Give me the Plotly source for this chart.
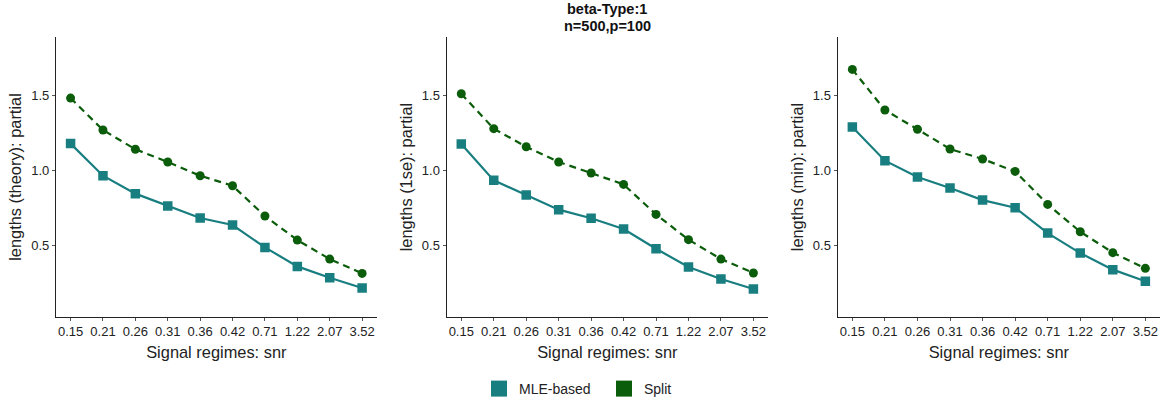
import plotly.graph_objects as go

# Signal-to-noise regimes (categorical x axis)
snr_labels = ["0.15", "0.21", "0.26", "0.31", "0.36", "0.42", "0.71", "1.22", "2.07", "3.52"]

# Interval lengths per tuning rule
mle_theory = [1.179, 0.964, 0.844, 0.761, 0.681, 0.634, 0.484, 0.357, 0.281, 0.212]
split_theory = [1.484, 1.270, 1.141, 1.056, 0.964, 0.897, 0.694, 0.533, 0.406, 0.310]

mle_1se = [1.176, 0.933, 0.835, 0.737, 0.679, 0.607, 0.475, 0.353, 0.272, 0.205]
split_1se = [1.513, 1.279, 1.158, 1.056, 0.982, 0.906, 0.705, 0.536, 0.406, 0.313]

mle_min = [1.290, 1.065, 0.955, 0.882, 0.801, 0.750, 0.580, 0.446, 0.335, 0.257]
split_min = [1.676, 1.404, 1.275, 1.143, 1.076, 0.993, 0.772, 0.589, 0.449, 0.344]

y_titles = ["lengths (theory): partial", "lengths (1se): partial", "lengths (min): partial"]
x_title = "Signal regimes: snr"
series_names = ["MLE-based", "Split"]
title_lines = ["beta-Type:1", "n=500,p=100"]

MLE_COLOR = "#187E80"
SPLIT_COLOR = "#0B5D0B"
FONT = "Liberation Sans, Arial, sans-serif"

W, H = 1167, 407
# panel extents in pixels (left, right)
panels_px = [(56, 376.7), (446.7, 768), (837.7, 1160)]
y_top_px, y_bot_px = 37.3, 316.7

fig = go.Figure()

panel_data = [(mle_theory, split_theory), (mle_1se, split_1se), (mle_min, split_min)]

for i, (mle, split) in enumerate(panel_data):
    xa = "x" if i == 0 else f"x{i+1}"
    ya = "y" if i == 0 else f"y{i+1}"
    fig.add_trace(go.Scatter(
        x=snr_labels, y=split, mode="lines+markers", name=series_names[1],
        line=dict(color=SPLIT_COLOR, width=2.2, dash="7px,5px"),
        marker=dict(symbol="circle", size=9, color=SPLIT_COLOR),
        xaxis=xa, yaxis=ya, showlegend=False,
    ))
    fig.add_trace(go.Scatter(
        x=snr_labels, y=mle, mode="lines+markers", name=series_names[0],
        line=dict(color=MLE_COLOR, width=2.2),
        marker=dict(symbol="square", size=9.5, color=MLE_COLOR),
        xaxis=xa, yaxis=ya, showlegend=False,
    ))

# legend keys as filled squares
for name, col in zip(series_names, [MLE_COLOR, SPLIT_COLOR]):
    fig.add_trace(go.Scatter(
        x=[None], y=[None], mode="markers", name=name,
        marker=dict(symbol="square", size=16, color=col),
        showlegend=True,
    ))

layout = dict(
    width=W, height=H,
    margin=dict(l=0, r=0, t=0, b=0),
    paper_bgcolor="white", plot_bgcolor="white",
    font=dict(family=FONT, size=13, color="#222222"),
    showlegend=True,
    legend=dict(
        orientation="h", x=604 / W, xanchor="center", y=(H - 389) / H, yanchor="middle",
        font=dict(size=14, color="#222222"), itemwidth=30, tracegroupgap=0,
        entrywidth=80, entrywidthmode="pixels",
        bgcolor="rgba(0,0,0,0)",
    ),
)

y_dom = [(H - y_bot_px) / H, (H - y_top_px) / H]
for i, (l, r) in enumerate(panels_px):
    xk = "xaxis" if i == 0 else f"xaxis{i+1}"
    yk = "yaxis" if i == 0 else f"yaxis{i+1}"
    xref = "x" if i == 0 else f"x{i+1}"
    yref = "y" if i == 0 else f"y{i+1}"
    layout[xk] = dict(
        domain=[l / W, r / W], anchor=yref, type="category",
        categoryorder="array", categoryarray=snr_labels,
        range=[-0.45, 9.45], showgrid=False, zeroline=False,
        showline=True, linecolor="#222222", linewidth=1.3,
        ticks="outside", ticklen=3, tickcolor="#555555", tickwidth=1,
        tickfont=dict(size=13, color="#222222"),
        title=dict(text=x_title, font=dict(size=16.4, color="#222222"), standoff=8),
    )
    layout[yk] = dict(
        domain=y_dom, anchor=xref, range=[0.02, 1.891],
        tickvals=[0.5, 1.0, 1.5], ticktext=["0.5", "1.0", "1.5"],
        showgrid=False, zeroline=False,
        showline=True, linecolor="#222222", linewidth=1.3,
        ticks="outside", ticklen=3, tickcolor="#555555", tickwidth=1,
        tickfont=dict(size=13, color="#222222"),
        title=dict(text=y_titles[i], font=dict(size=16.4, color="#222222"), standoff=5),
    )

fig.update_layout(**layout)

# two-line bold title centred over the middle panel
title_x = (panels_px[1][0] + panels_px[1][1]) / 2 / W
for txt, ypx in zip(title_lines, [8.6, 25.6]):
    fig.add_annotation(
        text=f"<b>{txt}</b>", x=title_x, xref="paper", y=(H - ypx) / H, yref="paper",
        xanchor="center", yanchor="middle", showarrow=False,
        font=dict(size=14.5, color="#111111", family=FONT),
    )

fig.write_html("out.html")
